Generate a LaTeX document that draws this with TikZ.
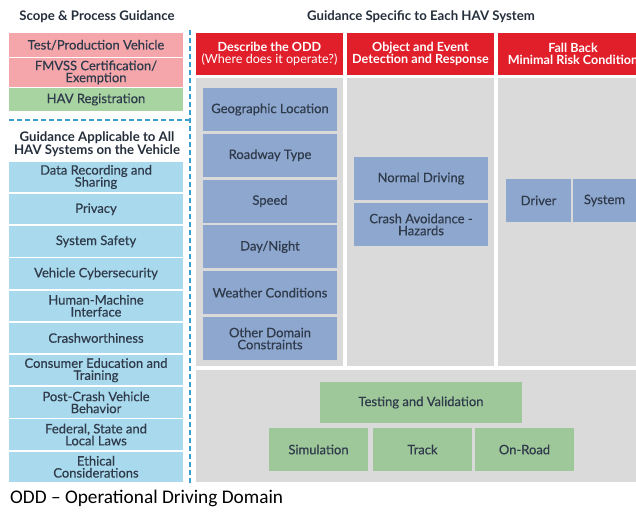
\documentclass[tikz,border=0pt]{standalone}
\usepackage{fontspec}
\setmainfont{Lato}
\newfontfamily\boxfont[FakeBold=0.5]{Lato}
\newfontfamily\footfont{Carlito}
\definecolor{pinkc}{HTML}{F4A6AB}
\definecolor{greenc}{HTML}{A8D4A2}
\definecolor{greenb}{HTML}{9FC89A}
\definecolor{lblue}{HTML}{A9D9EC}
\definecolor{sblue}{HTML}{8EA7CF}
\definecolor{redh}{HTML}{E11F2B}
\definecolor{grayp}{HTML}{DADADA}
\definecolor{dashc}{HTML}{3A9FD0}
\definecolor{txt}{HTML}{2F3B4B}
\begin{document}
\begin{tikzpicture}[x=1pt,y=-1pt,
  bx/.style={inner sep=0pt, outer sep=0pt, align=center, text=txt, font=\boxfont\fontsize{13}{12}\selectfont},
  pinkbox/.style={bx, fill=pinkc, minimum width=174pt},
  leftgreen/.style={bx, fill=greenc, minimum width=174pt, minimum height=23pt},
  leftblue/.style={bx, fill=lblue, minimum width=174pt, minimum height=30.5pt},
  oddbox/.style={bx, fill=sblue, minimum width=134pt, minimum height=43pt},
  greenbox/.style={bx, fill=greenb, minimum height=42pt},
  header/.style={bx, fill=redh, text=white, minimum height=42pt, font=\bfseries\fontsize{12.6}{12}\selectfont},
  panel/.style={fill=grayp, draw=none},
  title/.style={inner sep=0pt, text=txt!80!black, font=\bfseries\fontsize{13.2}{12}\selectfont, align=center},
  dashline/.style={draw=dashc, line width=2.4pt, dash pattern=on 5pt off 3pt}
]
\clip (0,0) rectangle (636,511);
\fill[white] (0,0) rectangle (636,511);

% titles
\node[title] (t1) at (97,17) {Scope \& Process Guidance};
\node[title] (t2) at (421,17) {Guidance Specific to Each HAV System};
\node[title] (t3) at (97,144.5) {Guidance Applicable to All\\HAV Systems on the Vehicle};

% left column top
\node[pinkbox, minimum height=24pt] (p1) at (96,45) {Test/Production Vehicle};
\node[pinkbox, minimum height=29pt] (p2) at (96,72.5) {FMVSS Certification/\\Exemption};
\node[leftgreen] (g1) at (96,99.5) {HAV Registration};

% left blue boxes
\node[leftblue] (b1) at (96,177) {Data Recording and\\Sharing};
\node[leftblue] (b2) at (96,209.2) {Privacy};
\node[leftblue] (b3) at (96,241.4) {System Safety};
\node[leftblue] (b4) at (96,273.6) {Vehicle Cybersecurity};
\node[leftblue] (b5) at (96,305.8) {Human-Machine\\Interface};
\node[leftblue] (b6) at (96,338) {Crashworthiness};
\node[leftblue] (b7) at (96,370.2) {Consumer Education and\\Training};
\node[leftblue] (b8) at (96,402.4) {Post-Crash Vehicle\\Behavior};
\node[leftblue] (b9) at (96,434.6) {Federal, State and\\Local Laws};
\node[leftblue] (b10) at (96,466.8) {Ethical\\Considerations};

% dashed separators
\coordinate (dv1) at (190,30);
\coordinate (dv2) at (190,486);
\coordinate (dh1) at (9,120);
\coordinate (dh2) at (190,120);
\draw[dashline] (dv1) -- (dv2);
\draw[dashline] (dh1) -- (dh2);

% gray panels
\fill[panel] (196,78) rectangle (343,366);
\fill[panel] (347,78) rectangle (494,366);
\fill[panel] (498,78) rectangle (640,366);
\fill[panel] (196,370) rectangle (640,482);

% headers
\node[header, minimum width=147pt] (h1) at (269.5,54) {Describe the ODD\\{\mdseries(Where does it operate?)}};
\node[header, minimum width=147pt] (h2) at (420.5,54) {Object and Event\\Detection and Response};
\node[header, minimum width=150pt] (h3) at (573,54) {Fall Back\\Minimal Risk Condition};

% ODD boxes
\node[oddbox] (o1) at (270,109.5) {Geographic Location};
\node[oddbox] (o2) at (270,155.3) {Roadway Type};
\node[oddbox] (o3) at (270,201.1) {Speed};
\node[oddbox] (o4) at (270,246.9) {Day/Night};
\node[oddbox] (o5) at (270,292.7) {Weather Conditions};
\node[oddbox] (o6) at (270,338.5) {Other Domain\\Constraints};

% OEDR boxes
\node[oddbox] (e1) at (421,178.5) {Normal Driving};
\node[oddbox] (e2) at (421,224.5) {Crash Avoidance -\\Hazards};

% fallback boxes
\node[oddbox, minimum width=65pt] (f1) at (538.5,200.5) {Driver};
\node[oddbox, minimum width=64pt] (f2) at (604.5,200.5) {System};

% testing
\node[greenbox, minimum width=202pt, minimum height=41pt] (v0) at (421,402.5) {Testing and Validation};
\node[greenbox, minimum width=99pt, minimum height=43pt] (v1) at (318.5,449.5) {Simulation};
\node[greenbox, minimum width=99pt, minimum height=43pt] (v2) at (422.5,449.5) {Track};
\node[greenbox, minimum width=99pt, minimum height=43pt] (v3) at (524.5,449.5) {On-Road};

% footnote
\node[anchor=west, inner sep=0pt, font=\footfont\fontsize{19.3}{19}\selectfont] (fn) at (10,498) {ODD – Operational Driving Domain};
\end{tikzpicture}
\end{document}
